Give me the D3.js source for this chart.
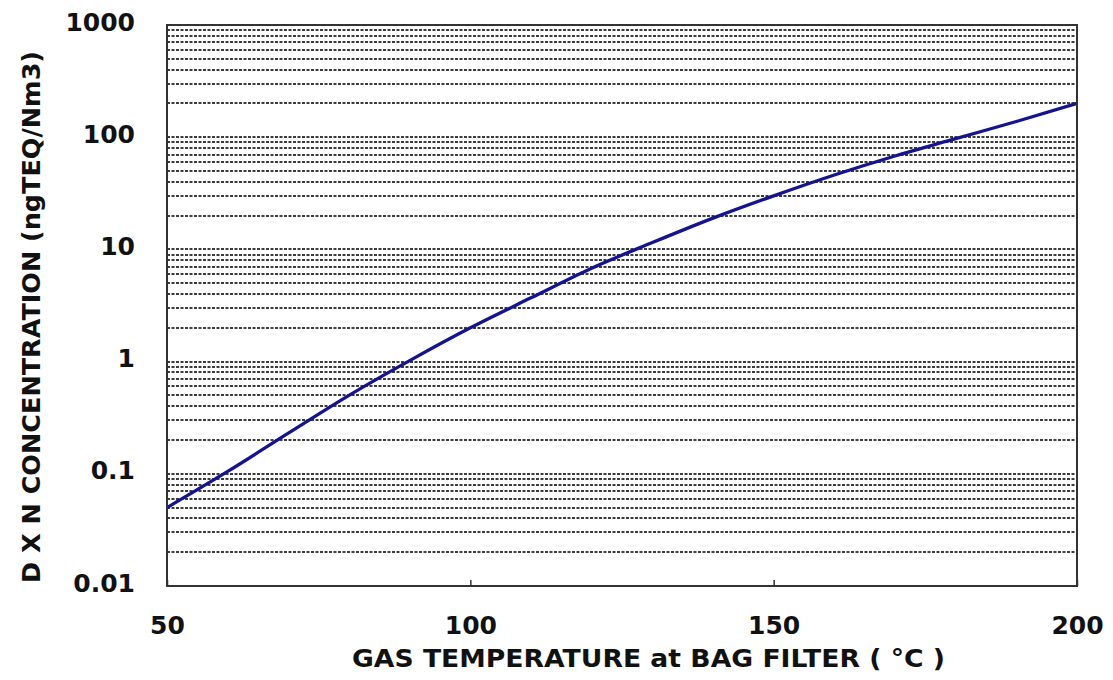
<!DOCTYPE html>
<html>
<head>
<meta charset="utf-8">
<script src="https://cdn.jsdelivr.net/npm/d3@7"></script>
<style>
  html, body { margin: 0; padding: 0; background: #fff; }
  svg { display: block; }
  text { font-family: "DejaVu Sans", Verdana, sans-serif; font-weight: bold; fill: #111; }
</style>
</head>
<body>
<svg id="chart" width="1113" height="680"></svg>
<script>
// Gas temperature at the bag filter (°C)
const temperatures = [50, 60, 70, 80, 90, 100, 110, 120, 130, 140, 150, 160, 170, 180, 190, 200];
// Dioxin concentration (ngTEQ/Nm3)
const concentrations = [0.05, 0.105, 0.23, 0.5, 1.02, 2.0, 3.7, 6.8, 11.5, 19, 30, 46, 68, 97, 138, 200];

const xTicks = [50, 100, 150, 200];
const yTicks = [0.01, 0.1, 1, 10, 100, 1000];
const yTickLabels = ["0.01", "0.1", "1", "10", "100", "1000"];

const xTitle = "GAS TEMPERATURE at BAG FILTER ( \u00B0C )";
const yTitle = "D X N  CONCENTRATION (ngTEQ/Nm3)";

const svg = d3.select("#chart");
const plot = { left: 167, right: 1077, top: 25, bottom: 586 };
const fontFamily = "DejaVu Sans, Verdana, sans-serif";

const x = d3.scaleLinear().domain([50, 200]).range([plot.left, plot.right]);
const y = d3.scaleLog().domain([0.01, 1000]).range([plot.bottom, plot.top]);

// Dashed gridlines at every 1..9 step of each decade
const gridValues = [];
for (let e = -2; e < 3; e++) {
  for (let m = 1; m <= 9; m++) {
    const v = m * Math.pow(10, e);
    if (v > 0.01) gridValues.push(v);
  }
}
svg.append("g")
  .selectAll("line")
  .data(gridValues)
  .join("line")
  .attr("x1", plot.left)
  .attr("x2", plot.right)
  .attr("y1", d => Math.round(y(d)))
  .attr("y2", d => Math.round(y(d)))
  .attr("stroke", "#3c3c3c")
  .attr("stroke-width", 2)
  .attr("stroke-dasharray", "3,1.5");

// Data curve
const line = d3.line()
  .x((d, i) => x(temperatures[i]))
  .y(d => y(d))
  .curve(d3.curveMonotoneX);

svg.append("path")
  .datum(concentrations)
  .attr("d", line)
  .attr("fill", "none")
  .attr("stroke", "#14148e")
  .attr("stroke-width", 3.3);

// Plot frame
svg.append("rect")
  .attr("x", plot.left)
  .attr("y", plot.top)
  .attr("width", plot.right - plot.left)
  .attr("height", plot.bottom - plot.top)
  .attr("fill", "none")
  .attr("stroke", "#333")
  .attr("stroke-width", 2);

// Axes: small inward ticks on the bottom edge, labels outside
const xAxis = d3.axisBottom(x).tickValues(xTicks).tickSize(-6).tickPadding(30).tickFormat(d3.format("d"));
const gx = svg.append("g").attr("transform", `translate(0,${plot.bottom})`).call(xAxis);
gx.select(".domain").remove();
gx.selectAll(".tick line").attr("stroke", "#333").attr("stroke-width", 1.5);
gx.selectAll(".tick text").attr("font-size", 25).attr("fill", "#111")
  .attr("font-family", fontFamily).attr("font-weight", "bold");

const yAxis = d3.axisLeft(y).tickValues(yTicks).tickSize(0).tickPadding(32)
  .tickFormat((d, i) => yTickLabels[i]);
const gy = svg.append("g").attr("transform", `translate(${plot.left},0)`).call(yAxis);
gy.select(".domain").remove();
gy.selectAll(".tick text").attr("font-size", 25).attr("fill", "#111").attr("dy", "0.2em")
  .attr("font-family", fontFamily).attr("font-weight", "bold");

// Axis titles
svg.append("text")
  .attr("x", 352)
  .attr("y", 667)
  .attr("font-size", 25)
  .attr("textLength", 593)
  .attr("lengthAdjust", "spacingAndGlyphs")
  .text(xTitle);

svg.append("text")
  .attr("transform", `translate(40,583) rotate(-90)`)
  .attr("font-size", 25)
  .attr("textLength", 532)
  .attr("lengthAdjust", "spacingAndGlyphs")
  .text(yTitle);
</script>
</body>
</html>
